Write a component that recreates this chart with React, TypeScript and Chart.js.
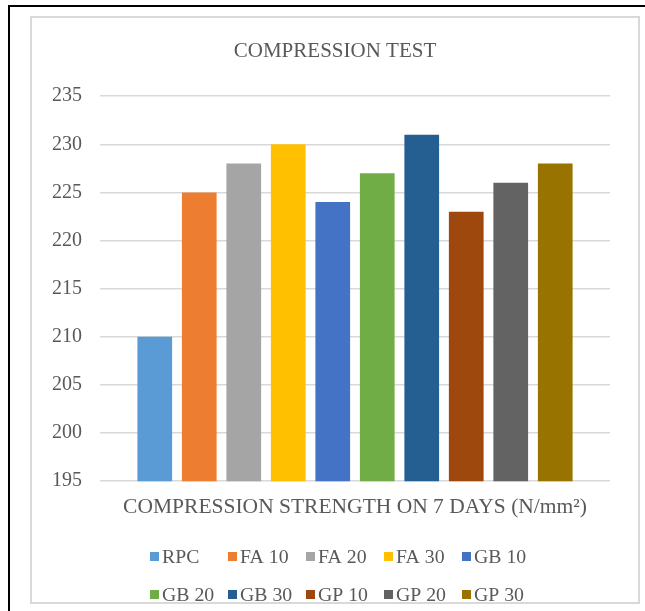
import React, { useEffect, useRef } from "react";
import { Chart, registerables } from "chart.js";

Chart.register(...registerables);

const chartTitle = "COMPRESSION TEST";
const categories = ["COMPRESSION STRENGTH ON 7 DAYS (N/mm²)"];
const seriesNames = ["RPC", "FA 10", "FA 20", "FA 30", "GB 10", "GB 20", "GB 30", "GP 10", "GP 20", "GP 30"];
const seriesValues = [210, 225, 228, 230, 224, 227, 231, 223, 226, 228];
const seriesColors = ["#5B9BD5", "#ED7D31", "#A5A5A5", "#FFC000", "#4472C4", "#70AD47", "#255E91", "#9E480E", "#636363", "#997300"];
const yMin = 195;
const yMax = 235;
const yStep = 5;

const FONT = "'Liberation Serif', 'Times New Roman', serif";
const TEXT = "#595959";

const gridLegend = {
  id: "gridLegend",
  afterDraw(chart: any) {
    const ctx = chart.ctx as CanvasRenderingContext2D;
    const items = chart.data.datasets;
    const cols = 5;
    const colW = 78;
    const box = 9;
    const fontSize = 19.8;
    ctx.save();
    ctx.font = `${fontSize}px ${FONT}`;
    ctx.textBaseline = "middle";
    ctx.textAlign = "left";
    const startX = chart.width / 2 - 185;
    const rowYs = [chart.height - 44, chart.height - 6];
    items.forEach((d: any, i: number) => {
      const r = Math.floor(i / cols);
      const c = i % cols;
      const x = startX + c * colW;
      const y = rowYs[r];
      ctx.fillStyle = d.backgroundColor;
      ctx.fillRect(x, y - 6, box, box);
      ctx.fillStyle = TEXT;
      ctx.fillText(d.label, x + 12, y);
    });
    ctx.restore();
  },
};

export default function App() {
  const ref = useRef<HTMLCanvasElement>(null);
  useEffect(() => {
    if (!ref.current) return;
    const chart = new Chart(ref.current, {
      type: "bar",
      data: {
        labels: categories,
        datasets: seriesNames.map((name, i) => ({
          label: name,
          data: [seriesValues[i]],
          backgroundColor: seriesColors[i],
          borderWidth: 0,
          barPercentage: 0.78,
          categoryPercentage: 0.8725,
        })),
      },
      options: {
        animation: false,
        responsive: false,
        maintainAspectRatio: false,
        layout: { padding: { left: 2, right: 2, top: 0, bottom: 82 } },
        plugins: {
          legend: { display: false },
          tooltip: { enabled: false },
          title: {
            display: true,
            text: chartTitle,
            color: TEXT,
            font: { family: FONT, size: 21, weight: "normal" },
            padding: { top: 21, bottom: 32 },
          },
        },
        scales: {
          x: {
            grid: { display: false, drawTicks: false },
            border: { display: false },
            ticks: { display: false },
            title: {
              display: true,
              text: categories[0],
              color: TEXT,
              font: { family: FONT, size: 21.5 },
              padding: { top: 13, bottom: 0 },
            },
          },
          y: {
            min: yMin,
            max: yMax,
            grid: { color: "#D9D9D9", lineWidth: 1.5, drawTicks: false },
            border: { display: false },
            ticks: {
              stepSize: yStep,
              color: TEXT,
              font: { family: FONT, size: 20 },
              padding: 18,
            },
          },
          yRight: {
            type: "linear",
            position: "right",
            display: true,
            grid: { display: false, drawTicks: false },
            border: { display: false },
            ticks: { display: false },
            afterFit: (scale: any) => {
              scale.width = 26;
            },
          },
        },
      },
      plugins: [gridLegend],
    });
    return () => chart.destroy();
  }, []);

  return (
    <div>
      <div
        style={{
          position: "absolute",
          left: 8,
          top: 5,
          width: 637,
          height: 606,
          boxSizing: "border-box",
          borderLeft: "2px solid #000",
          borderTop: "2px solid #000",
        }}
      />
      <div
        style={{
          position: "absolute",
          left: 30,
          top: 16,
          width: 610,
          height: 588,
          boxSizing: "border-box",
          border: "2px solid #D9D9D9",
          background: "#fff",
        }}
      >
        <canvas ref={ref} width={606} height={584} style={{ display: "block", width: 606, height: 584 }} />
      </div>
    </div>
  );
}
